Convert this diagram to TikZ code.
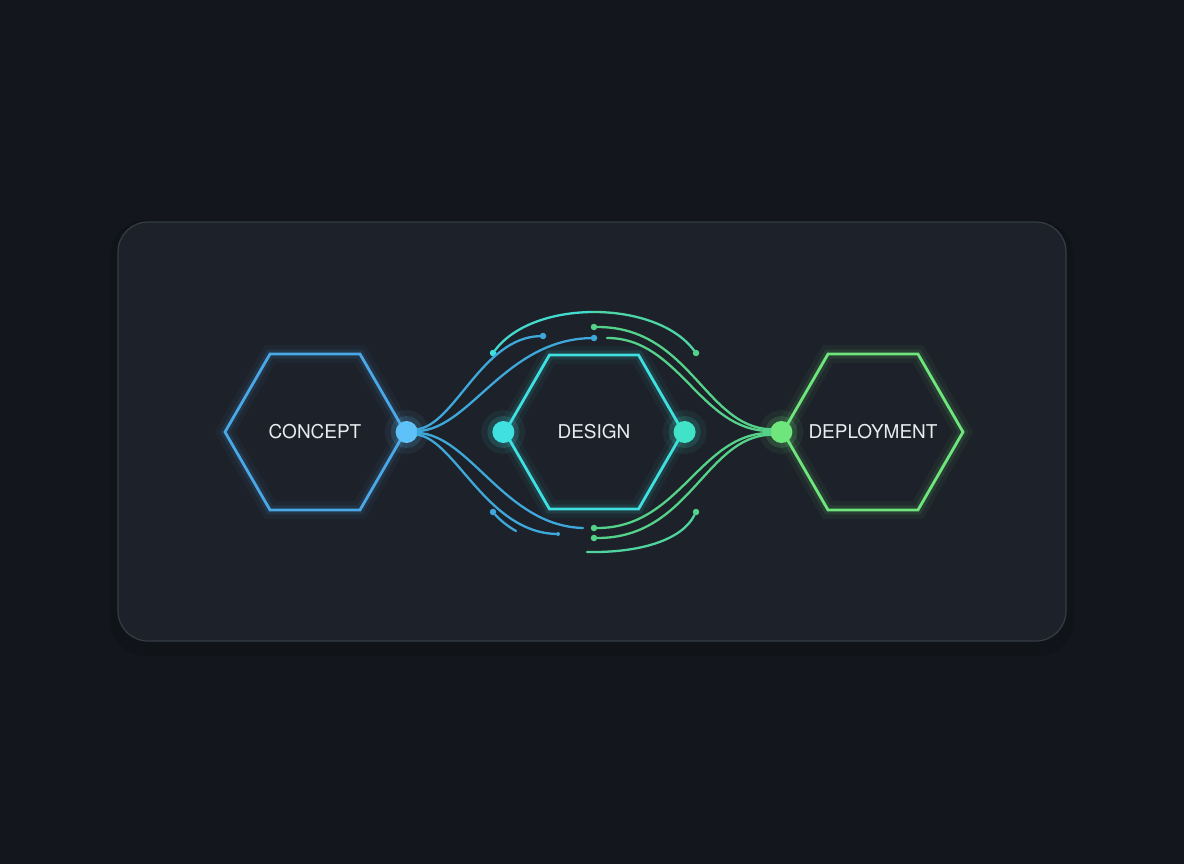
\documentclass[tikz,border=0pt]{standalone}
\usepackage{fontspec}
\setsansfont{TeX Gyre Heros}
\usetikzlibrary{shapes.geometric,positioning}

\definecolor{bgdark}{HTML}{13161C}
\definecolor{cardfill}{HTML}{1D2129}
\definecolor{cardline}{HTML}{363D44}
\definecolor{conceptblue}{HTML}{4AA8E8}
\definecolor{dotblue}{HTML}{5EC2F8}
\definecolor{wireblue}{HTML}{3EA8DA}
\definecolor{designcyan}{HTML}{3FE0E0}
\definecolor{dotteal}{HTML}{40E2C8}
\definecolor{arcteal}{HTML}{45D8C0}
\definecolor{wiregreen}{HTML}{55D28A}
\definecolor{deploygreen}{HTML}{6EE67C}
\definecolor{labelwhite}{HTML}{E8ECEF}

\begin{document}
\begin{tikzpicture}[x=1pt,y=-1pt,node distance=279pt,on grid,
  hexbox/.style={regular polygon,regular polygon sides=6,minimum size=180pt,inner sep=0pt,
    line width=2.8pt,label={[text=labelwhite,font=\sffamily\fontsize{19}{23}\selectfont]center:#1}},
  glow/.style={preaction={draw=#1,line width=18pt,opacity=0.05},
    preaction={draw=#1,line width=9pt,opacity=0.1}},
  dot/.style={circle,inner sep=0pt,minimum size=22pt,
    preaction={draw=#1,line width=22pt,opacity=0.07},
    preaction={draw=#1,line width=10pt,opacity=0.15},fill=#1},
  tip/.style={circle,inner sep=0pt,minimum size=6.5pt,fill=#1},
  wire/.style={line width=2.3pt,line cap=round}]

  % backdrop and card
  \fill[bgdark] (0,0) rectangle (1184,864);
  \fill[black,opacity=0.12,rounded corners=36pt] (110,220) rectangle (1074,656);
  \filldraw[fill=cardfill,draw=cardline,line width=1.2pt,rounded corners=30pt]
    (118,222) rectangle (1066,641);

  % stages
  \node[hexbox=CONCEPT,draw=conceptblue,glow=conceptblue] (h_1) at (315,432) {};
  \node[hexbox=DESIGN,draw=designcyan,glow=designcyan,minimum size=178pt] (h_2) [right=of h_1] {};
  \node[hexbox=DEPLOYMENT,draw=deploygreen,glow=deploygreen] (h_3) [right=of h_2] {};

  % junction dots
  \node[dot=dotblue] (d_1) at (h_1.east) {};
  \node[dot=designcyan] (d_2) at (h_2.west) {};
  \node[dot=dotteal] (d_3) at (h_2.east) {};
  \node[dot=deploygreen] (d_4) at (h_3.west) {};

  % wire ends
  \node[tip=wireblue] (t_1) at (543,336) {};
  \node[tip=wireblue] (t_2) at (594,338) {};
  \node[tip=wiregreen] (t_3) at (594,327) {};
  \node[tip=designcyan] (t_4) at (493,353) {};
  \node[tip=wiregreen] (t_5) at (696,353) {};
  \node[tip=wireblue] (t_6) at (493,512) {};
  \node[tip=wiregreen] (t_7) at (594,528) {};
  \node[tip=wiregreen] (t_8) at (594,538) {};
  \node[tip=wiregreen] (t_9) at (696,512) {};
  \node[tip=wireblue,minimum size=4pt] (t_10) at (558,534) {};
  \coordinate (c_1) at (607,338);
  \coordinate (c_2) at (583,528);
  \coordinate (c_3) at (516,531);
  \coordinate (c_4) at (587,552);
  \coordinate (c_5) at (594,312);

  % fan out of concept
  \draw[wire,wireblue] (d_1.14) .. controls (455,424) and (482,338) .. (t_1);
  \draw[wire,wireblue] (d_1.5) .. controls (470,429) and (505,340) .. (t_2);
  \draw[wire,wireblue] (d_1.-5) .. controls (470,435) and (505,526) .. (c_2);
  \draw[wire,wireblue] (d_1.-14) .. controls (455,440) and (487,532) .. (t_10);

  % fan into deployment
  \draw[wire,wiregreen] (t_3) .. controls (690,327) and (705,427) .. (d_4.166);
  \draw[wire,wiregreen] (c_1) .. controls (680,338) and (700,431) .. (d_4.175);
  \draw[wire,wiregreen] (t_7) .. controls (680,528) and (700,433) .. (d_4.185);
  \draw[wire,wiregreen] (t_8) .. controls (690,538) and (705,437) .. (d_4.194);

  % outer arcs
  \draw[wire,arcteal!60!designcyan] (t_4) .. controls (515,324) and (555,312) .. (c_5);
  \draw[wire,arcteal!50!wiregreen] (c_5) .. controls (633,312) and (674,324) .. (t_5);
  \draw[wire,wireblue] (t_6) .. controls (499,519) and (507,526) .. (c_3);
  \draw[wire,arcteal!40!wiregreen] (c_4) .. controls (640,553) and (682,540) .. (t_9);
\end{tikzpicture}
\end{document}
